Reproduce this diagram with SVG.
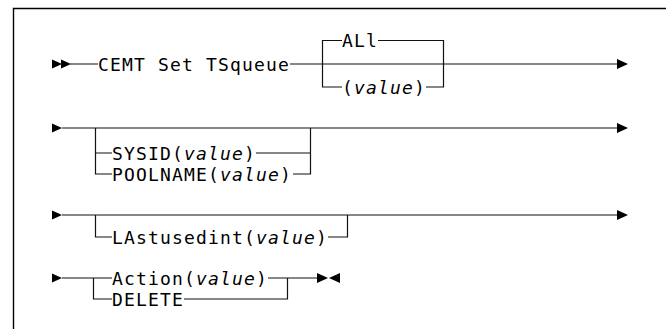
<svg xmlns="http://www.w3.org/2000/svg" width="666" height="329" viewBox="0 0 666 329">
<style>
.ln{stroke:#111;stroke-width:1.2;fill:none}
.ah{fill:#000}
.frame{stroke:#000;stroke-width:1.4;fill:none}
text{font-family:"DejaVu Sans Mono","Liberation Mono",monospace;font-size:18px;letter-spacing:1.16px;fill:#000}
.it{font-style:italic}
</style>
<defs>
<path id="sa" d="M0,-4.5 L10,0 L0,4.5 Z"/>
<path id="ea" d="M0,-5 L11,0 L0,5 Z"/>
<path id="la" d="M0,0 L11,-5 L11,5 Z"/>
</defs>
<rect width="666" height="329" fill="#fff"/>
<path class="frame" d="M13.5,329 L13.5,8.5 L666,8.5"/>
<g id="connectors">
<!-- row 1 -->
<use href="#sa" class="ah" x="52" y="64"/>
<use href="#sa" class="ah" x="61" y="64"/>
<path class="ln" d="M70,64 L98,64 M290,64 L617,64"/>
<path class="ln" d="M322.5,64 L322.5,40.5 L342,40.5 M378,40.5 L443.5,40.5 L443.5,87 L426,87 M342,87 L322.5,87 L322.5,64"/>
<use href="#ea" class="ah" x="617" y="64"/>
<!-- row 2 -->
<use href="#sa" class="ah" x="52" y="128"/>
<path class="ln" d="M62,128 L617,128"/>
<path class="ln" d="M95.5,128 L95.5,174 L112,174 M293,174 L310.5,174 L310.5,128 M95.5,153 L112,153 M256,153 L310.5,153"/>
<use href="#ea" class="ah" x="617" y="128"/>
<!-- row 3 -->
<use href="#sa" class="ah" x="52" y="215"/>
<path class="ln" d="M62,215 L617,215"/>
<path class="ln" d="M95.5,215 L95.5,237 L112,237 M328,237 L347.5,237 L347.5,215"/>
<use href="#ea" class="ah" x="617" y="215"/>
<!-- row 4 -->
<use href="#sa" class="ah" x="52" y="278"/>
<path class="ln" d="M62,278 L112,278 M268,278 L317,278"/>
<path class="ln" d="M93.5,278 L93.5,299 L112,299 M184,299 L287.5,299 L287.5,278"/>
<use href="#ea" class="ah" x="317" y="278"/>
<use href="#la" class="ah" x="329" y="278"/>
</g>
<g id="n-cemt"><text x="98" y="70.5">CEMT Set TSqueue</text></g>
<g id="n-all"><text x="342" y="47">ALl</text></g>
<g id="n-value"><text x="342" y="93.5">(<tspan class="it">value</tspan>)</text></g>
<g id="n-sysid"><text x="112" y="159.5">SYSID(<tspan class="it">value</tspan>)</text></g>
<g id="n-poolname"><text x="112" y="180.5">POOLNAME(<tspan class="it">value</tspan>)</text></g>
<g id="n-lastusedint"><text x="112" y="243.5">LAstusedint(<tspan class="it">value</tspan>)</text></g>
<g id="n-action"><text x="112" y="284.5">Action(<tspan class="it">value</tspan>)</text></g>
<g id="n-delete"><text x="112" y="305.5">DELETE</text></g>
</svg>
